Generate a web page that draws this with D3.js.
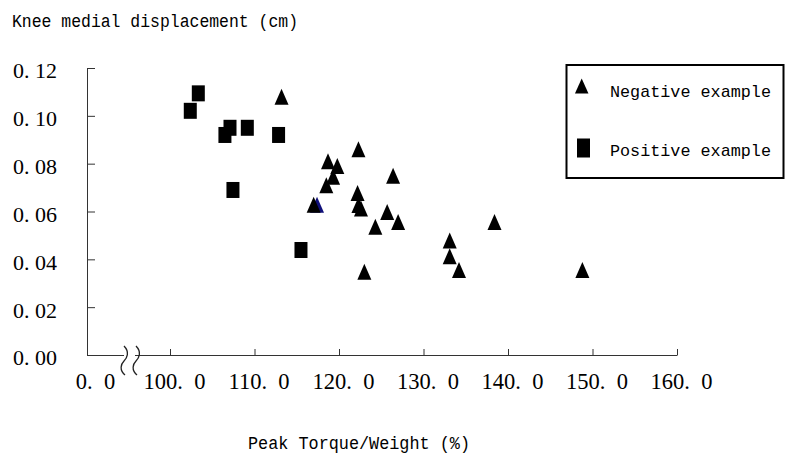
<!DOCTYPE html>
<html>
<head>
<meta charset="utf-8">
<script src="https://cdn.jsdelivr.net/npm/d3@7"></script>
<style>
  body { margin: 0; background: #fff; }
  svg { display: block; }
</style>
</head>
<body>
<svg id="chart" width="785" height="455"></svg>
<script>
// Negative examples: peak torque / weight (%) and knee medial displacement (cm)
const negativeX = [113.2, 122.3, 118.7, 119.8, 119.3, 126.4, 118.5, 122.2, 117.0, 122.3,
                   122.6, 125.7, 127.0, 124.3, 138.4, 133.1, 133.1, 134.2, 123.0, 148.8];
const negativeY = [0.108, 0.086, 0.081, 0.079, 0.0745, 0.075, 0.071, 0.0677, 0.0628, 0.0627,
                   0.0613, 0.0598, 0.0556, 0.0536, 0.0556, 0.0479, 0.0413, 0.0355, 0.0348, 0.0355];
// Positive examples
const positiveX = [103.35, 102.4, 106.5, 107.1, 109.15, 112.85, 107.45, 115.5];
const positiveY = [0.1094, 0.1021, 0.092, 0.095, 0.095, 0.092, 0.069, 0.0439];
// One negative case drawn in navy, sitting behind its neighbour
const markedX = [117.4];
const markedY = [0.0628];

const yTicks = [0, 0.02, 0.04, 0.06, 0.08, 0.10, 0.12];
const yTickLabels = ["0. 00", "0. 02", "0. 04", "0. 06", "0. 08", "0. 10", "0. 12"];
const xTicks = [0, 100, 110, 120, 130, 140, 150, 160];
const xTickLabels = ["0.\u00a0\u00a00", "100.\u00a0\u00a00", "110.\u00a0\u00a00",
                     "120.\u00a0\u00a00", "130.\u00a0\u00a00", "140.\u00a0\u00a00",
                     "150.\u00a0\u00a00", "160.\u00a0\u00a00"];
const seriesNames = ["Negative example", "Positive example"];

const svg = d3.select("#chart");
const axisColor = "#333";
const monoFont = "'Liberation Mono', 'DejaVu Sans Mono', monospace";
const numFont = "'Liberation Serif', 'DejaVu Serif', serif";

// Broken x scale: 0 -> 100 is compressed into one interval
const x = d3.scaleLinear().domain([0, 100, 160]).range([87, 170, 677]);
const y = d3.scaleLinear().domain([0, 0.12]).range([355, 68]);

// Y axis with inward ticks
const yAxis = svg.append("g")
  .attr("transform", `translate(${x(0)},0)`)
  .call(d3.axisLeft(y).tickValues(yTicks).tickSizeInner(-8).tickSizeOuter(0)
    .tickPadding(30).tickFormat((d, i) => yTickLabels[i]));
yAxis.select(".domain").attr("stroke", axisColor);
yAxis.selectAll(".tick line").attr("stroke", axisColor);
yAxis.selectAll(".tick text")
  .attr("font-family", numFont).attr("font-size", 22).attr("fill", "#000")
  .attr("dy", "0.45em");

// X axis with inward ticks
const xAxis = svg.append("g")
  .attr("transform", `translate(0,${y(0)})`)
  .call(d3.axisBottom(x).tickValues(xTicks).tickSizeInner(-6).tickSizeOuter(0)
    .tickPadding(18).tickFormat((d, i) => xTickLabels[i]));
xAxis.select(".domain").attr("stroke", axisColor);
xAxis.selectAll(".tick line").attr("stroke", axisColor)
  .attr("opacity", d => d === 0 ? 0 : 1);
xAxis.selectAll(".tick text")
  .attr("font-family", numFont).attr("font-size", 22.5).attr("fill", "#000")
  .attr("dx", d => d === 0 ? 8 : 4);

// Axis break marks
const brk = svg.append("g");
brk.append("rect").attr("x", 124).attr("y", 352).attr("width", 11).attr("height", 6).attr("fill", "#fff");
[121, 133].forEach(bx => {
  brk.append("path")
    .attr("d", `M${bx + 3},346 C${bx + 9},352 ${bx + 6},358 ${bx + 3},361 S${bx - 2},370 ${bx + 4},375`)
    .attr("fill", "none").attr("stroke", "#222").attr("stroke-width", 1.3);
});

// Marker shapes
const triW = 14, triH = 16, sqW = 13, sqH = 16;
const triPath = (w, h) => `M0,${-h / 2}L${w / 2},${h / 2}L${-w / 2},${h / 2}Z`;

svg.append("g").selectAll("path")
  .data(markedX.map((v, i) => [v, markedY[i]]))
  .join("path")
  .attr("d", triPath(triW, triH))
  .attr("transform", d => `translate(${x(d[0])},${y(d[1])})`)
  .attr("fill", "#10107a");

svg.append("g").selectAll("path")
  .data(negativeX.map((v, i) => [v, negativeY[i]]))
  .join("path")
  .attr("d", triPath(triW, triH))
  .attr("transform", d => `translate(${x(d[0])},${y(d[1])})`)
  .attr("fill", "#000");

svg.append("g").selectAll("rect")
  .data(positiveX.map((v, i) => [v, positiveY[i]]))
  .join("rect")
  .attr("x", d => x(d[0]) - sqW / 2)
  .attr("y", d => y(d[1]) - sqH / 2)
  .attr("width", sqW).attr("height", sqH)
  .attr("fill", "#000");

// Titles
svg.append("text")
  .attr("x", 12).attr("y", 27)
  .attr("font-family", monoFont).attr("font-size", 19)
  .attr("textLength", 286).attr("lengthAdjust", "spacingAndGlyphs")
  .attr("fill", "#000")
  .text("Knee medial displacement (cm)");

svg.append("text")
  .attr("x", 248).attr("y", 449)
  .attr("font-family", monoFont).attr("font-size", 19)
  .attr("textLength", 222).attr("lengthAdjust", "spacingAndGlyphs")
  .attr("fill", "#000")
  .text("Peak Torque/Weight (%)");

// Legend
const legend = svg.append("g");
legend.append("rect")
  .attr("x", 566.5).attr("y", 65).attr("width", 217).attr("height", 113)
  .attr("fill", "#fff").attr("stroke", "#000").attr("stroke-width", 2);
legend.append("path")
  .attr("d", triPath(13.5, 15))
  .attr("transform", "translate(581.7,86)")
  .attr("fill", "#000");
legend.append("rect")
  .attr("x", 577).attr("y", 138.5).attr("width", 13).attr("height", 19)
  .attr("fill", "#000");
[[seriesNames[0], 96.5], [seriesNames[1], 156]].forEach(([name, by]) => {
  legend.append("text")
    .attr("x", 610).attr("y", by)
    .attr("font-family", monoFont).attr("font-size", 17)
    .attr("textLength", 161).attr("lengthAdjust", "spacingAndGlyphs")
    .attr("fill", "#000")
    .text(name);
});
</script>
</body>
</html>
